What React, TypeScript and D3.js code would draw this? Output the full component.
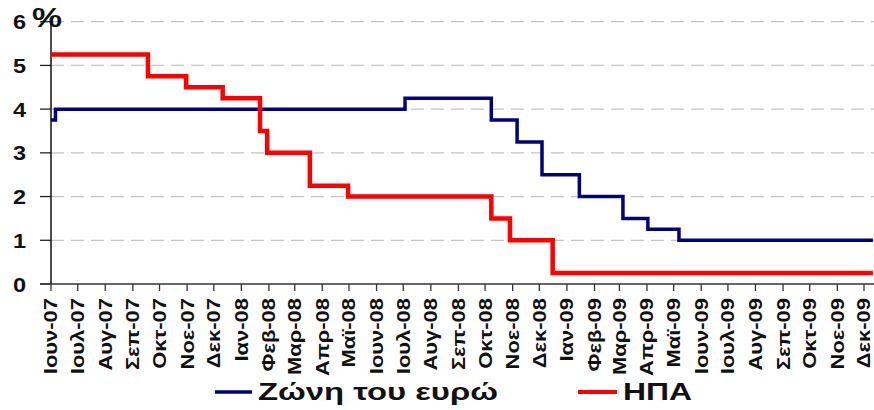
import React from "react";
import * as d3 from "d3";

const monthLabels = ["Ιουν-07","Ιουλ-07","Αυγ-07","Σεπ-07","Οκτ-07","Νοε-07","Δεκ-07","Ιαν-08","Φεβ-08","Μαρ-08","Απρ-08","Μαϊ-08","Ιουν-08","Ιουλ-08","Αυγ-08","Σεπ-08","Οκτ-08","Νοε-08","Δεκ-08","Ιαν-09","Φεβ-09","Μαρ-09","Απρ-09","Μαϊ-09","Ιουν-09","Ιουλ-09","Αυγ-09","Σεπ-09","Οκτ-09","Νοε-09","Δεκ-09"];
const monthStarts = ["2007-06-01","2007-07-01","2007-08-01","2007-09-01","2007-10-01","2007-11-01","2007-12-01","2008-01-01","2008-02-01","2008-03-01","2008-04-01","2008-05-01","2008-06-01","2008-07-01","2008-08-01","2008-09-01","2008-10-01","2008-11-01","2008-12-01","2009-01-01","2009-02-01","2009-03-01","2009-04-01","2009-05-01","2009-06-01","2009-07-01","2009-08-01","2009-09-01","2009-10-01","2009-11-01","2009-12-01"];

const ecbDates = ["2007-06-01","2007-06-06","2008-07-03","2008-10-08","2008-11-06","2008-12-04","2009-01-15","2009-03-05","2009-04-02","2009-05-07","2009-12-11"];
const ecbRates = [3.75,4.00,4.25,3.75,3.25,2.50,2.00,1.50,1.25,1.00,1.00];
const fedDates = ["2007-06-01","2007-09-18","2007-10-31","2007-12-11","2008-01-22","2008-01-30","2008-03-18","2008-04-30","2008-10-08","2008-10-29","2008-12-16","2009-12-11"];
const fedRates = [5.25,4.75,4.50,4.25,3.50,3.00,2.25,2.00,1.50,1.00,0.25,0.25];
const yTicks = [0,1,2,3,4,5,6];

const seriesNames = ["Ζώνη του ευρώ","ΗΠΑ"];
const seriesColors = ["#000080","#ff0000"];

const parse = d3.utcParse("%Y-%m-%d");

export default function App() {
  const W = 874, H = 410;
  const x = d3.scaleUtc().domain([parse("2007-06-01")!, parse("2009-12-01")!]).range([51, 864]);
  const y = d3.scaleLinear().domain([0, 6]).range([284, 21.7]);
  const line = d3.line<[Date, number]>().x(d => x(d[0])).y(d => y(d[1])).curve(d3.curveStepAfter);
  const ecb: [Date, number][] = ecbDates.map((d, i) => [parse(d)!, ecbRates[i]]);
  const fed: [Date, number][] = fedDates.map((d, i) => [parse(d)!, fedRates[i]]);
  const font = "'Liberation Sans', Arial, sans-serif";
  const x0 = x.range()[0];
  return (
    <svg width={W} height={H} style={{ position: "absolute", left: 0, top: 0, background: "#fff" }} fontFamily={font}>
      {yTicks.filter(t => t > 0).map(t => (
        <line key={"g" + t} x1={x0} x2={W} y1={y(t)} y2={y(t)} stroke="#c4c4c4" strokeWidth={1.2} strokeDasharray="13 7" />
      ))}
      {yTicks.map(t => (
        <g key={"y" + t}>
          <line x1={40} x2={x0} y1={y(t)} y2={y(t)} stroke="#222" strokeWidth={1.3} />
          <text transform={`translate(26,${y(t)}) scale(1.12,1)`} dy="0.36em" textAnchor="end" fontSize={21} fontWeight="bold" fill="#111">{t}</text>
        </g>
      ))}
      <text x={32} y={27} fontSize={28} fontWeight="bold" fill="#111" textLength={30} lengthAdjust="spacingAndGlyphs">%</text>
      <line x1={x0} x2={x0} y1={y(6)} y2={y(0)} stroke="#111" strokeWidth={1.5} />
      <line x1={40} x2={W} y1={y(0)} y2={y(0)} stroke="#333" strokeWidth={1.5} />
      {monthStarts.map((m, i) => {
        const px = x(parse(m)!);
        return (
          <g key={"x" + i}>
            <line x1={px} x2={px} y1={y(0)} y2={y(0) + 7} stroke="#333" strokeWidth={1.3} />
            <text transform={`translate(${px},298) rotate(-90) scale(1.22,1)`} dy="0.36em" textAnchor="end" fontSize={18} fontWeight="bold" fill="#111">{monthLabels[i]}</text>
          </g>
        );
      })}
      <path d={line(ecb) ?? ""} fill="none" stroke={seriesColors[0]} strokeWidth={3.5} />
      <path d={line(fed) ?? ""} fill="none" stroke={seriesColors[1]} strokeWidth={4.5} />
      <line x1={215} x2={252} y1={392} y2={392} stroke={seriesColors[0]} strokeWidth={3.5} />
      <text x={258} y={400} fontSize={23} fontWeight="bold" fill="#111" textLength={240} lengthAdjust="spacingAndGlyphs">{seriesNames[0]}</text>
      <line x1={578} x2={617} y1={392} y2={392} stroke={seriesColors[1]} strokeWidth={4} />
      <text x={623} y={400} fontSize={23} fontWeight="bold" fill="#111" textLength={69} lengthAdjust="spacingAndGlyphs">{seriesNames[1]}</text>
    </svg>
  );
}
